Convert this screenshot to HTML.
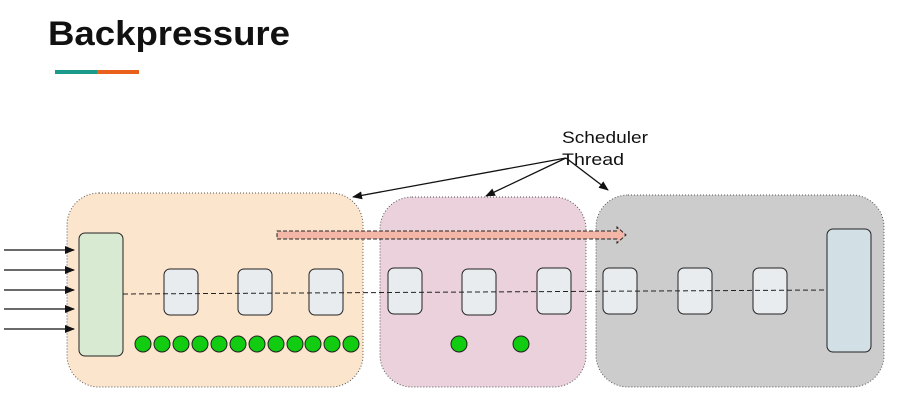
<!DOCTYPE html>
<html><head><style>body{margin:0;background:#fff}svg{display:block}</style></head><body>
<svg width="901" height="403" viewBox="0 0 901 403" xmlns="http://www.w3.org/2000/svg" font-family="Liberation Sans, sans-serif">
<defs><marker id="a" markerWidth="10" markerHeight="8" refX="9" refY="4" orient="auto" markerUnits="userSpaceOnUse"><path d="M0,0L10,4L0,8z" fill="#111"/></marker></defs>
<text x="48" y="45" font-size="34" font-weight="bold" fill="#111" textLength="242" lengthAdjust="spacingAndGlyphs">Backpressure</text>
<rect x="55" y="70" width="42" height="4" fill="#1a9a8a"/><rect x="97" y="70" width="42" height="4" fill="#e8601c"/>
<rect x="67" y="193" width="296" height="194" rx="32" fill="#fce5cd" stroke="#555" stroke-dasharray="1,2"/>
<rect x="380" y="197" width="206" height="190" rx="32" fill="#ead1dc" stroke="#555" stroke-dasharray="1,2"/>
<rect x="596" y="195" width="288" height="192" rx="32" fill="#cccccc" stroke="#555" stroke-dasharray="1,2"/>
<g stroke="#111" stroke-width="1.3" marker-end="url(#a)">
<line x1="4" y1="250" x2="74" y2="250"/><line x1="4" y1="270" x2="74" y2="270"/><line x1="4" y1="290" x2="74" y2="290"/><line x1="4" y1="309" x2="74" y2="309"/><line x1="4" y1="329" x2="74" y2="329"/>
<line x1="566" y1="158" x2="353" y2="197"/><line x1="566" y1="158" x2="486" y2="196"/><line x1="566" y1="158" x2="608" y2="190"/>
</g>
<rect x="79" y="233" width="44" height="123" rx="6" fill="#d9ead3" stroke="#222"/>
<rect x="827" y="229" width="44" height="123" rx="6" fill="#d2e0e6" stroke="#222"/>
<g fill="#e8ecee" stroke="#222">
<rect x="164" y="269" width="34" height="46" rx="6"/><rect x="238" y="269" width="34" height="46" rx="6"/><rect x="309" y="269" width="34" height="46" rx="6"/>
<rect x="388" y="268" width="34" height="46" rx="6"/><rect x="462" y="269" width="34" height="46" rx="6"/><rect x="537" y="268" width="34" height="46" rx="6"/>
<rect x="603" y="268" width="34" height="46" rx="6"/><rect x="678" y="268" width="34" height="46" rx="6"/><rect x="753" y="268" width="34" height="46" rx="6"/>
</g>
<line x1="123" y1="294" x2="827" y2="290" stroke="#222" stroke-dasharray="5,3"/>
<path d="M277,231H617V227L626,235L617,243V239H277Z" fill="#f4b6a6" stroke="#222" stroke-dasharray="4,2"/>
<g fill="#11cc11" stroke="#222">
<circle cx="143" cy="344" r="8"/><circle cx="162" cy="344" r="8"/><circle cx="181" cy="344" r="8"/><circle cx="200" cy="344" r="8"/><circle cx="219" cy="344" r="8"/><circle cx="238" cy="344" r="8"/><circle cx="257" cy="344" r="8"/><circle cx="276" cy="344" r="8"/><circle cx="295" cy="344" r="8"/><circle cx="313" cy="344" r="8"/><circle cx="332" cy="344" r="8"/><circle cx="351" cy="344" r="8"/>
<circle cx="459" cy="344" r="8"/><circle cx="521" cy="344" r="8"/>
</g>
<text x="562" y="143" font-size="17" fill="#111" textLength="86" lengthAdjust="spacingAndGlyphs">Scheduler</text>
<text x="562" y="165" font-size="17" fill="#111" textLength="62" lengthAdjust="spacingAndGlyphs">Thread</text>
</svg>
</body></html>
